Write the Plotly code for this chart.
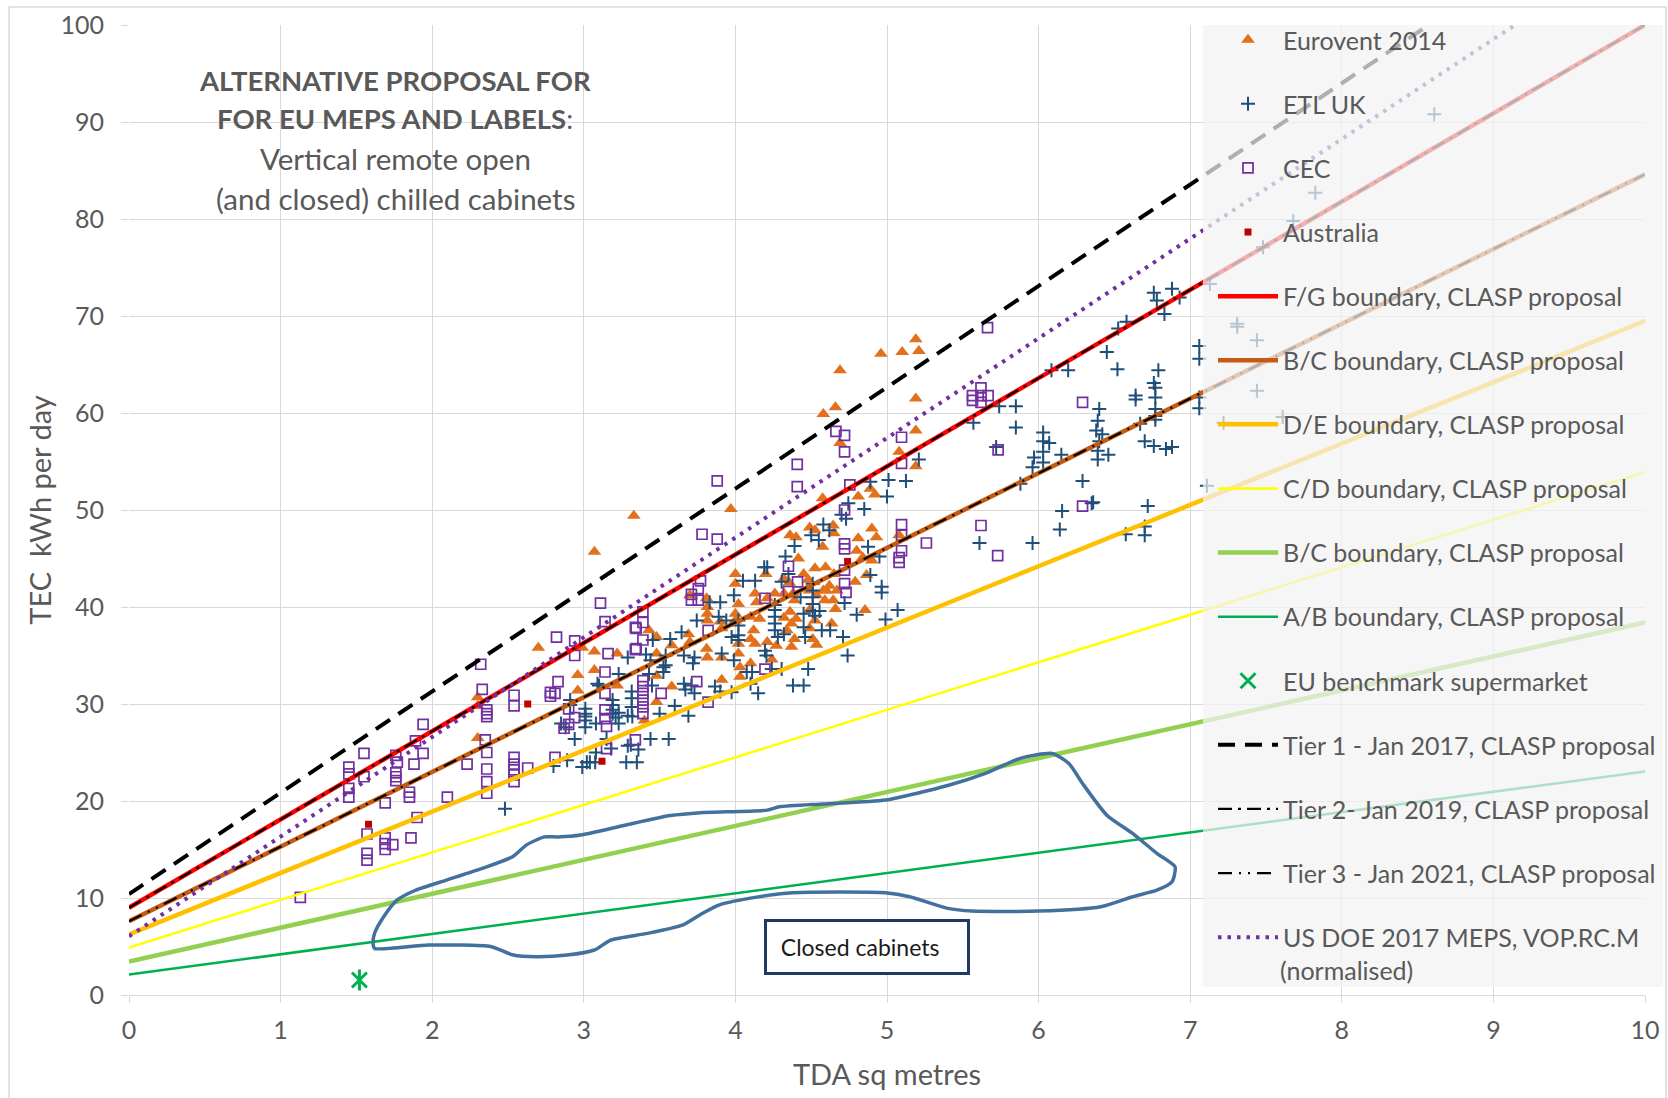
import plotly.graph_objects as go

# ---------------- data ----------------
eurovent_x = [4.69, 4.66, 4.58, 4.96, 5.10, 5.19, 5.21, 5.19, 5.19, 5.08, 5.19, 4.69, 3.33, 3.07, 3.97,
              4.575, 4.81, 4.89, 4.92,
              4.36, 4.40, 4.49, 4.525, 4.645, 4.65, 4.575, 4.81, 4.90, 4.93, 5.08, 4.80, 4.84, 4.90, 4.415,
              4.00, 4.00, 4.02, 4.20, 4.45, 4.48, 4.525, 4.595, 4.65, 4.32, 4.355, 4.62, 4.60, 4.67, 4.79, 4.865,
              3.70, 3.81, 4.13, 4.14, 4.21, 4.26, 4.32, 4.38, 4.39, 4.49, 4.535, 4.58, 4.59, 4.645, 4.66, 4.635, 4.855,
              3.815, 3.815, 3.815, 4.00, 4.00, 4.10, 4.12, 4.10, 4.13, 4.16, 4.32, 4.36, 4.40, 4.37, 4.49, 4.525,
              4.49, 4.34, 4.39, 4.37, 4.51, 4.535, 4.21, 4.27,
              3.43, 3.48, 3.58, 3.69, 3.70, 3.90, 3.91, 3.81, 3.815, 3.91, 4.02, 4.03, 4.03, 4.10, 3.48, 3.48,
              3.58, 3.91, 4.24, 3.48, 4.02, 3.40,
              2.70, 2.99, 3.07, 3.22, 2.96, 3.07, 2.96, 3.22, 2.30, 2.30, 2.30]
eurovent_y = [64.4, 60.6, 59.9, 66.1, 66.3, 67.6, 66.4, 61.5, 58.2, 56.0, 54.5, 56.9, 49.4, 45.7, 50.1,
              51.2, 51.4, 52.2, 51.6,
              47.4, 47.2, 48.2, 47.9, 48.4, 47.6, 46.2, 47.1, 48.1, 47.2, 47.4, 45.8, 45.1, 44.8, 45.0,
              43.4, 42.4, 40.3, 43.4, 43.4, 42.8, 44.0, 44.1, 43.4, 42.9, 42.5, 42.2, 41.7, 41.7, 42.6, 43.3,
              41.2, 40.9, 41.4, 40.5, 40.9, 41.4, 41.4, 41.4, 40.7, 41.7, 41.2, 41.7, 40.7, 40.7, 39.8, 38.3, 39.7,
              40.0, 39.3, 38.6, 39.3, 38.6, 39.0, 37.6, 36.7, 36.2, 38.8, 38.9, 39.5, 38.8, 38.3, 39.7, 38.6,
              37.8, 37.6, 36.7, 35.9, 36.7, 36.1, 36.4, 36.0,
              37.6, 36.9, 36.05, 37.2, 36.4, 38.5, 37.8, 35.7, 34.8, 34.8, 35.2, 33.8, 32.8, 34.2, 35.2, 32.9,
              31.8, 32.5, 34.6, 30.2, 36.2, 28.3,
              35.8, 35.8, 35.4, 35.2, 33.0, 33.5, 31.4, 31.9, 30.7, 29.8, 26.5]

etl_x = [6.76, 6.88, 6.78, 6.93, 6.83, 6.58, 6.525, 6.45, 6.52, 6.79, 6.195, 6.085, 6.76, 6.77, 6.64, 6.64,
         6.77, 6.77, 6.77, 6.77, 7.06, 7.06, 5.74, 5.85, 5.57, 5.85, 6.40, 6.39, 6.38, 6.42, 6.40,
         6.03, 6.03, 6.07, 6.03, 6.03, 5.97, 5.96, 6.15, 6.39, 6.39, 6.46, 6.67, 6.70, 6.76, 6.84, 6.88,
         5.72, 5.21, 5.125, 5.88, 6.29, 6.35, 6.36, 6.155, 6.72, 6.14, 5.96, 5.61, 6.70, 6.70, 6.575,
         8.61, 7.825, 7.68, 7.48, 7.13, 7.31, 7.31, 7.44, 7.06, 7.06, 7.44, 7.61, 7.22, 7.11,
         4.89, 5.01, 5.0, 4.745, 4.85, 4.70, 4.73, 4.58, 4.62, 4.50, 4.39, 4.55, 4.875, 4.95, 4.89,
         4.965, 4.965, 4.72, 4.80, 4.99, 5.07, 4.33, 4.19, 4.21, 4.35, 4.305, 4.51, 4.51, 4.51, 4.51,
         4.51, 4.525, 4.555, 4.43, 4.45, 4.26, 4.26, 4.26, 4.26, 4.26, 4.28, 4.13, 4.05, 3.99, 3.90,
         3.83, 3.745, 3.645, 3.57, 3.455, 3.89, 4.02, 4.02, 4.02, 4.02, 3.94, 3.41, 3.54, 3.66, 3.72,
         3.91, 3.975, 3.99, 4.195, 4.205, 4.32, 4.45, 4.46, 4.625, 4.71, 4.74, 4.57, 4.305, 4.24, 4.48,
         4.075, 4.11, 4.10, 4.15, 4.38, 4.45, 3.525, 3.525, 3.90, 3.865, 3.71, 3.67, 3.73, 3.975, 3.60,
         3.69, 3.50, 3.316, 3.316, 3.316, 3.43, 3.45,
         3.44, 3.56, 3.31, 3.36, 3.15, 3.28, 3.35, 3.075, 3.02, 2.99, 2.89, 2.80, 3.21, 3.23, 3.29,
         3.01, 3.01, 3.01, 2.94, 2.91, 2.91, 3.10, 3.23, 3.29, 3.44, 3.54, 3.73, 3.66,
         3.09, 3.19, 3.19, 3.19, 3.19, 3.23, 3.01, 3.01, 3.08, 3.32, 2.85, 2.88, 3.08, 3.18, 3.29,
         3.04, 2.48]
etl_y = [72.4, 72.8, 71.6, 71.9, 70.2, 69.4, 68.7, 66.3, 64.5, 64.4, 64.4, 64.4, 63.1, 62.6, 61.8, 61.4,
         61.6, 60.4, 59.3, 59.7, 66.9, 65.6, 60.7, 60.7, 59.0, 58.5, 60.4, 59.2, 58.2, 57.8, 57.1,
         58.0, 57.1, 56.9, 56.0, 54.9, 55.4, 54.4, 55.7, 56.1, 55.2, 55.7, 58.9, 57.1, 56.6, 56.3, 56.5,
         56.5, 55.2, 53.0, 52.7, 53.0, 50.7, 50.8, 49.9, 50.4, 48.0, 46.6, 46.6, 48.3, 47.4, 47.5,
         90.8, 82.7, 79.8, 77.1, 73.3, 69.2, 68.9, 67.5, 61.6, 60.5, 62.3, 59.6, 59.0, 52.5,
         52.9, 53.1, 51.4, 50.7, 50.1, 49.5, 49.1, 48.5, 47.9, 47.4, 46.3, 46.9, 46.2, 45.2, 43.3,
         42.1, 41.5, 40.4, 39.2, 38.7, 39.7, 45.2, 44.1, 44.1, 43.4, 42.6, 42.4, 41.7, 41.0, 40.3,
         39.6, 39.1, 39.6, 41.0, 39.3, 40.2, 39.7, 39.0, 38.3, 37.6, 36.9, 42.7, 42.7, 41.2, 40.5,
         40.5, 38.6, 37.4, 36.7, 36.6, 39.0, 38.6, 38.1, 37.1, 36.6, 38.6, 35.1, 35.0, 35.0, 34.2,
         35.2, 36.9, 34.5, 35.5, 35.0, 37.2, 37.9, 36.9, 37.6, 36.9, 35.0, 37.6, 33.6, 33.6, 33.6,
         33.3, 33.3, 32.1, 31.1, 31.9, 31.9, 33.8, 33.3, 31.3, 31.8, 31.9, 31.5, 31.1, 31.2, 29.8,
         28.8, 29.0, 31.3, 30.6, 29.7, 33.1, 31.9,
         26.4, 26.4, 25.8, 25.3, 26.4, 24.0, 24.0, 24.0, 24.0, 23.5, 24.2, 23.6, 28.6, 29.1, 28.8,
         29.5, 29.0, 27.6, 26.4, 30.4, 29.9, 31.9, 33.1, 34.8, 34.5, 34.0, 34.8, 32.1,
         32.1, 30.4, 29.9, 29.4, 29.0, 28.0, 28.7, 28.3, 28.0, 28.7, 28.0, 27.6, 25.0, 25.4, 25.7,
         24.0, 19.2]

cec_x = [1.13,
         3.11, 3.14, 3.34, 2.82, 2.94, 2.94, 3.16, 3.34, 2.32, 3.14, 2.83, 2.78, 2.81, 2.78, 2.33,
         2.54, 2.54, 2.36, 2.36, 2.36, 3.14, 3.14, 3.14, 3.15, 2.90, 2.94, 2.90, 2.87, 3.15, 3.34,
         1.94, 1.89, 2.35, 1.55, 1.76, 1.94, 1.77, 1.88, 2.23, 2.36, 1.45, 1.45, 1.55, 1.76, 1.76,
         1.76, 2.36, 2.54, 2.54, 2.54, 2.54, 2.54, 2.63, 2.81, 2.36, 1.45, 1.45, 1.85, 1.85, 1.69,
         2.10, 2.36, 1.90, 1.57, 1.69, 1.69, 1.69, 1.74, 1.86, 1.57, 1.57,
         4.663, 4.72, 4.72, 5.096, 5.096, 4.408, 4.408, 3.88, 4.755, 4.72, 3.78, 3.88, 5.096, 5.096,
         5.096, 5.08, 5.08, 4.72, 4.72, 4.72, 4.72, 4.73, 4.35, 4.41, 4.35, 4.195, 3.77, 3.755, 3.755,
         3.71, 3.71, 3.39, 3.39, 3.345, 3.345, 3.39, 3.82, 4.195, 3.745, 3.51, 3.82, 3.39, 3.39, 3.39,
         3.39, 3.39, 3.39,
         5.663, 5.564, 5.564, 5.62, 5.62, 5.62, 5.667, 6.29, 5.733, 6.29, 5.62, 5.26, 5.73]
cec_y = [10.06,
         40.4, 38.5, 37.9, 36.9, 36.5, 35.0, 35.2, 35.6, 34.1, 33.3, 32.3, 31.2, 31.1, 30.8, 31.5,
         30.9, 29.8, 29.4, 29.0, 28.7, 31.1, 29.4, 28.5, 27.7, 29.5, 28.6, 27.9, 27.5, 25.4, 26.3,
         27.9, 26.2, 26.3, 24.9, 24.7, 24.9, 24.0, 23.8, 23.8, 25.0, 23.5, 22.8, 22.5, 22.9, 22.5,
         22.1, 23.3, 24.5, 23.8, 23.2, 22.7, 22.0, 23.4, 24.5, 22.0, 21.3, 20.4, 20.9, 20.4, 19.8,
         20.4, 20.8, 18.3, 16.6, 16.2, 15.6, 15.0, 15.5, 16.2, 14.6, 13.9,
         58.1, 57.7, 56.0, 57.5, 54.8, 54.7, 52.4, 53.0, 52.6, 50.0, 47.5, 47.0, 48.5, 47.4,
         45.8, 45.1, 44.6, 46.5, 46.0, 43.8, 42.4, 41.5, 44.2, 42.6, 41.6, 40.9, 42.7, 41.9, 40.7,
         41.3, 40.7, 39.5, 38.4, 37.8, 35.7, 36.6, 37.6, 33.6, 32.3, 31.1, 30.2, 32.4, 31.8, 31.1,
         30.4, 29.7, 29.0,
         68.8, 61.8, 61.3, 62.6, 61.8, 61.1, 61.8, 61.1, 56.2, 50.4, 48.4, 46.6, 45.3]

australia_x = [1.58, 2.63, 3.12, 4.74]
australia_y = [17.6, 30.0, 24.1, 44.7]

# boundary / tier lines: values read at TDA = 0 and TDA = 10
line_x = [0, 10]
fg_y = [9.0, 100.0]
bc_y = [7.6, 84.6]
de_y = [6.25, 69.5]
cd_y = [4.9, 53.9]
bc2_y = [3.45, 38.4]
ab_y = [2.1, 23.05]
tier1_y = [10.4, 114.9]
tier2_y = [9.0, 100.0]
tier3_y = [7.6, 84.6]
usdoe_y = [6.05, 108.8]

bench_x = [1.52]
bench_y = [1.55]

closed_x = [1.62, 1.975, 2.39, 2.535, 2.684, 2.89, 3.07, 3.18, 3.42, 3.65, 3.77, 3.89, 4.09, 4.38, 4.99,
            5.15, 5.40, 5.56, 6.00, 6.41, 6.62, 6.78, 6.88, 6.90, 6.78, 6.62, 6.45, 6.29, 6.20, 6.09,
            5.88, 5.64, 5.40, 4.99, 4.58, 4.29, 4.21, 3.77, 3.57, 3.27, 2.98, 2.83, 2.74, 2.62, 2.53,
            2.33, 2.095, 1.89, 1.77, 1.68, 1.62, 1.61, 1.62]
closed_y = [4.8, 5.15, 4.98, 4.12, 3.95, 4.12, 4.64, 5.67, 6.35, 7.2, 8.3, 9.27, 9.96, 10.54, 10.54,
            10.13, 8.93, 8.65, 8.65, 9.1, 10.13, 10.8, 11.67, 13.2, 14.6, 16.66, 18.54, 21.8, 23.87, 24.9,
            24.4, 22.8, 21.6, 20.1, 19.7, 19.4, 19.06, 18.8, 18.5, 17.5, 16.5, 16.3, 16.3, 15.45, 14.25,
            13.05, 11.85, 10.8, 9.8, 8.07, 6.36, 5.3, 4.8]

x_ticks = list(range(0, 11))
y_ticks = list(range(0, 101, 10))

# ---------------- figure ----------------
FONT = "Lato"
GREY = "#595959"

fig = go.Figure()

fig.add_trace(go.Scatter(x=eurovent_x, y=eurovent_y, mode="markers", name="Eurovent 2014",
                         legendgroup="g1",
                         marker=dict(symbol="triangle-up", size=12, color="#E2711D")))
fig.add_trace(go.Scatter(x=etl_x, y=etl_y, mode="markers", name="ETL UK", legendgroup="g2",
                         marker=dict(symbol="cross-thin-open", size=10, color="#1F4E79",
                                     line=dict(color="#1F4E79", width=2))))
fig.add_trace(go.Scatter(x=cec_x, y=cec_y, mode="markers", name="CEC", legendgroup="g3",
                         marker=dict(symbol="square-open", size=10, color="#7030A0",
                                     line=dict(color="#7030A0", width=1.7))))
fig.add_trace(go.Scatter(x=australia_x, y=australia_y, mode="markers", name="Australia",
                         legendgroup="g4",
                         marker=dict(symbol="square", size=7, color="#C00000")))

line_specs = [
    ("F/G boundary, CLASP proposal", fg_y, "#FF0000", 4.5, "solid"),
    ("B/C boundary, CLASP proposal", bc_y, "#C55A11", 4.5, "solid"),
    ("D/E boundary, CLASP proposal", de_y, "#FFC000", 4.5, "solid"),
    ("C/D boundary, CLASP proposal", cd_y, "#FFFF00", 2.5, "solid"),
    ("B/C boundary, CLASP proposal", bc2_y, "#92D050", 4.5, "solid"),
    ("A/B boundary, CLASP proposal", ab_y, "#00B050", 2.5, "solid"),
]
for i, (nm, yy, col, w, dash) in enumerate(line_specs):
    fig.add_trace(go.Scatter(x=line_x, y=yy, mode="lines", name=nm, legendgroup="l%d" % i,
                             line=dict(color=col, width=w, dash=dash)))

fig.add_trace(go.Scatter(x=bench_x, y=bench_y, mode="markers", name="EU benchmark supermarket",
                         legendgroup="eu",
                         marker=dict(symbol="x-thin-open", size=15, color="#00B050",
                                     line=dict(color="#00B050", width=3))))
fig.add_trace(go.Scatter(x=bench_x, y=bench_y, mode="markers", showlegend=False, legendgroup="eu",
                         hoverinfo="skip",
                         marker=dict(symbol="line-ns-open", size=15, color="#00B050",
                                     line=dict(color="#00B050", width=3))))

fig.add_trace(go.Scatter(x=line_x, y=tier1_y, mode="lines", name="Tier 1 - Jan 2017, CLASP proposal",
                         legendgroup="t1", line=dict(color="black", width=4, dash="17px,10px")))
fig.add_trace(go.Scatter(x=line_x, y=tier2_y, mode="lines", name="Tier 2- Jan 2019, CLASP proposal",
                         legendgroup="t2", line=dict(color="black", width=2.2, dash="14px,6px,3px,6px")))
fig.add_trace(go.Scatter(x=line_x, y=tier3_y, mode="lines", name="Tier 3 - Jan 2021, CLASP proposal",
                         legendgroup="t3",
                         line=dict(color="black", width=2.2, dash="14px,7px,2px,7px,2px,7px")))
fig.add_trace(go.Scatter(x=line_x, y=usdoe_y, mode="lines",
                         name="US DOE 2017 MEPS, VOP.RC.M",
                         legendgroup="doe", line=dict(color="#7030A0", width=4, dash="3.5px,6px")))

fig.add_trace(go.Scatter(x=closed_x, y=closed_y, mode="lines", showlegend=False, hoverinfo="skip",
                         line=dict(color="#41719C", width=3.5, shape="spline", smoothing=0.6)))

# ---------------- layout ----------------
L, R, T, B = 129, 23, 25, 103
W, H = 1668, 1098
pw, ph = W - L - R, H - T - B


def px_x(p):
    return (p - L) / pw


def px_y(p):
    return (H - B - p) / ph


fig.update_layout(
    width=W, height=H,
    margin=dict(l=L, r=R, t=T, b=B, autoexpand=False),
    paper_bgcolor="white", plot_bgcolor="white",
    font=dict(family=FONT, color=GREY),
    showlegend=True,
    legend=dict(x=px_x(1213), y=px_y(960), xanchor="left", yanchor="bottom",
                bgcolor="rgba(0,0,0,0)", borderwidth=0,
                font=dict(family=FONT, size=25, color=GREY),
                itemwidth=60, tracegroupgap=28.6, valign="middle",
                traceorder="grouped"),
    xaxis=dict(range=[0, 10], tickvals=x_ticks, showgrid=True, gridcolor="#D9D9D9", gridwidth=1.3,
               zeroline=False, showline=True, linecolor="#D9D9D9", linewidth=1.3,
               ticks="outside", ticklen=7, tickcolor="#D9D9D9", ticklabelstandoff=6,
               tickfont=dict(family=FONT, size=25, color=GREY),
               title=dict(text="TDA sq metres", font=dict(family=FONT, size=29, color=GREY), standoff=21)),
    yaxis=dict(range=[0, 100], tickvals=y_ticks, showgrid=True, gridcolor="#D9D9D9", gridwidth=1.3,
               zeroline=False, showline=False,
               ticks="outside", ticklen=7, tickcolor="#D9D9D9", ticklabelstandoff=12,
               tickfont=dict(family=FONT, size=25, color=GREY),
               title=dict(text="TEC&nbsp; kWh per day", font=dict(family=FONT, size=29, color=GREY),
                          standoff=0)),
)

# legend background (semi-transparent, sits above the plotted lines)
fig.add_shape(type="rect", xref="paper", yref="paper", layer="above",
              x0=px_x(1203), x1=px_x(1663), y0=px_y(987), y1=px_y(25),
              fillcolor="rgba(242,242,242,0.72)", line=dict(width=0))
# outer chart border
fig.add_shape(type="rect", xref="paper", yref="paper", layer="below",
              x0=px_x(9), x1=px_x(1666), y0=px_y(1115), y1=px_y(7),
              fillcolor="rgba(0,0,0,0)", line=dict(color="#D9D9D9", width=1.5))

# second line of the last legend entry
fig.add_annotation(text="(normalised)", xref="paper", yref="paper", x=px_x(1278), y=px_y(970),
                   xanchor="left", yanchor="middle", showarrow=False,
                   font=dict(family=FONT, size=25, color=GREY))

title_lines = [
    ("<b>ALTERNATIVE PROPOSAL FOR</b>", 80, 27.5),
    ("<b>FOR EU MEPS AND LABELS</b>:", 119, 27.5),
    ("Vertical remote open", 159, 29.5),
    ("(and closed) chilled cabinets", 198, 29.5),
]
for txt, yp, fs in title_lines:
    fig.add_annotation(text=txt, xref="paper", yref="paper", x=px_x(395), y=px_y(yp),
                       xanchor="center", yanchor="middle", showarrow=False,
                       font=dict(family=FONT, size=fs, color=GREY))

fig.add_annotation(text="&nbsp;&nbsp;Closed cabinets", xref="x", yref="y", x=4.865, y=4.9,
                   xanchor="center", yanchor="middle", showarrow=False, align="left",
                   width=196, height=46, borderpad=2, borderwidth=3,
                   bordercolor="#1F3864", bgcolor="white",
                   font=dict(family=FONT, size=23, color="#1A1A1A"))

fig.write_html("out.html")
